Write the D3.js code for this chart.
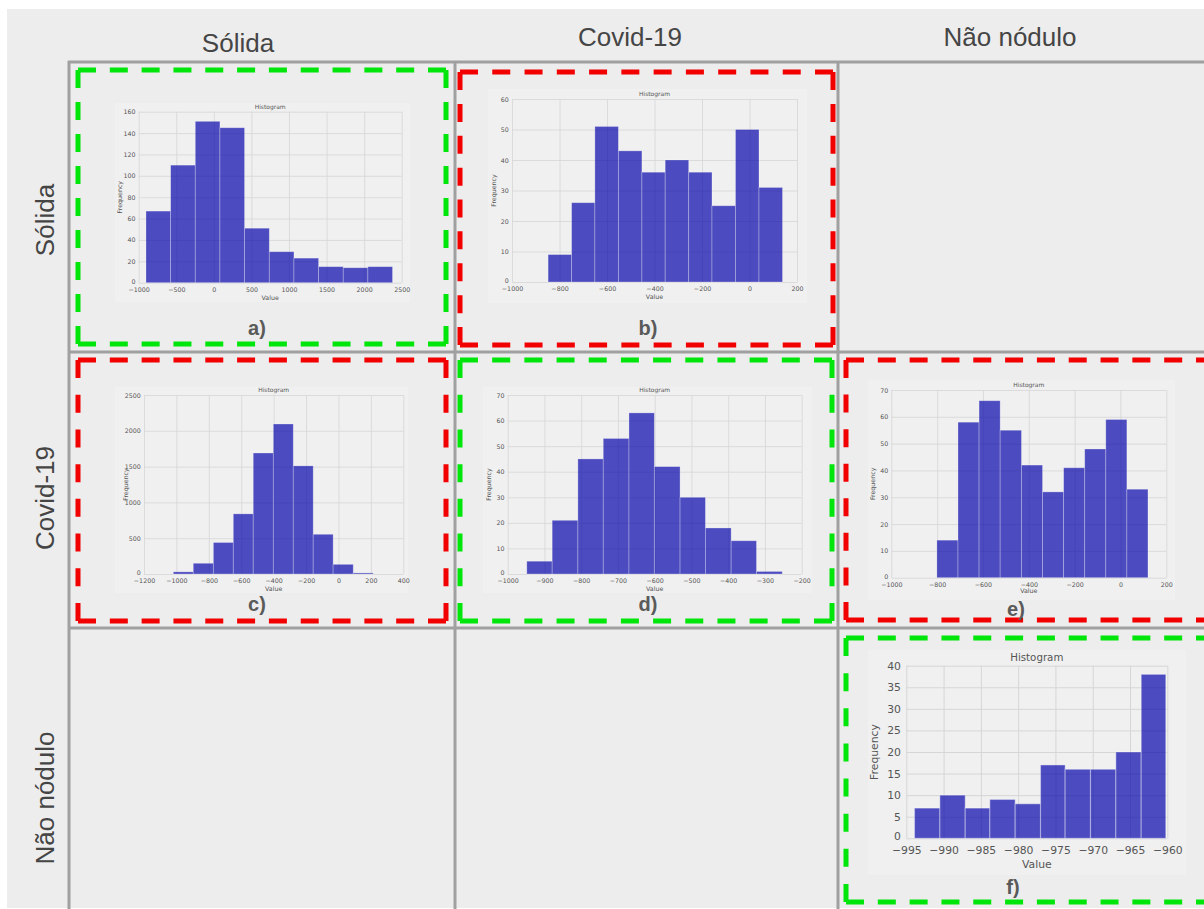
<!DOCTYPE html>
<html>
<head>
<meta charset="utf-8">
<script src="https://cdn.jsdelivr.net/npm/d3@7"></script>
<style>
  body { margin: 0; background: #ffffff; }
  svg { display: block; }
</style>
</head>
<body>
<svg id="chart" width="1204" height="909"></svg>
<script>
// Class names used for the row and column headers of the comparison grid
const classes = ["Sólida", "Covid-19", "Não nódulo"];

// Histogram counts (10 bins each) and the matching bin edges
const countsA = [67, 110, 151, 145, 51, 29, 23, 15, 14, 15];
const edgesA  = [-903, -575, -247, 81, 409, 738, 1066, 1394, 1722, 2050, 2378];
const ticksXA = [-1000, -500, 0, 500, 1000, 1500, 2000, 2500];
const ticksYA = [0, 20, 40, 60, 80, 100, 120, 140, 160];

const countsB = [9, 26, 51, 43, 36, 40, 36, 25, 50, 31];
const edgesB  = [-848, -749, -651, -552, -453, -355, -256, -158, -59, 40, 139];
const ticksXB = [-1000, -800, -600, -400, -200, 0, 200];
const ticksYB = [0, 10, 20, 30, 40, 50, 60];

const countsC = [30, 150, 440, 840, 1690, 2095, 1510, 555, 135, 15];
const edgesC  = [-1019, -896, -772, -649, -526, -402, -279, -156, -33, 91, 214];
const ticksXC = [-1200, -1000, -800, -600, -400, -200, 0, 200, 400];
const ticksYC = [0, 500, 1000, 1500, 2000, 2500];

const countsD = [5, 21, 45, 53, 63, 42, 30, 18, 13, 1];
const edgesD  = [-948, -879, -809, -740, -670, -601, -531, -462, -392, -323, -253];
const ticksXD = [-1000, -900, -800, -700, -600, -500, -400, -300, -200];
const ticksYD = [0, 10, 20, 30, 40, 50, 60, 70];

const countsE = [14, 58, 66, 55, 42, 32, 41, 48, 59, 33];
const edgesE  = [-801, -709, -617, -525, -432, -340, -248, -156, -64, 28, 120];
const ticksXE = [-1000, -800, -600, -400, -200, 0, 200];
const ticksYE = [0, 10, 20, 30, 40, 50, 60, 70];

const countsF = [7, 10, 7, 9, 8, 17, 16, 16, 20, 38];
const edgesF  = [-993.9, -990.5, -987.1, -983.8, -980.4, -977.0, -973.7, -970.3, -966.9, -963.5, -960.2];
const ticksXF = [-995, -990, -985, -980, -975, -970, -965, -960];
const ticksYF = [0, 5, 10, 15, 20, 25, 30, 35, 40];

// Layout of each cell: dashed frame, histogram card, plot area, label positions
const GREEN = "#00e60a", RED = "#f20000";
const panels = [
  { tag: "a)", counts: countsA, edges: edgesA, xTicks: ticksXA, yTicks: ticksYA, color: GREEN,
    frame: [78, 70, 446, 344], card: [115, 103, 410, 302], plot: [138.7, 111.7, 401.7, 282.7], fs: 6.3, tagPos: [257, 335], valueDy: 2.75 },
  { tag: "b)", counts: countsB, edges: edgesB, xTicks: ticksXB, yTicks: ticksYB, color: RED,
    frame: [460, 72, 833, 345], card: [488, 89, 807, 303], plot: [512, 99, 797, 282], fs: 6.3, tagPos: [648, 335], valueDy: 2.75 },
  { tag: "c)", counts: countsC, edges: edgesC, xTicks: ticksXC, yTicks: ticksYC, color: RED,
    frame: [78, 360, 446, 621], card: [115, 387, 408, 593], plot: [144, 395, 403.3, 574], fs: 6.3, tagPos: [257, 611], valueDy: 2.75 },
  { tag: "d)", counts: countsD, edges: edgesD, xTicks: ticksXD, yTicks: ticksYD, color: GREEN,
    frame: [460, 360, 832, 621], card: [483, 387, 812, 593], plot: [507.7, 395, 801.7, 574], fs: 6.3, tagPos: [648, 611], valueDy: 2.75 },
  { tag: "e)", counts: countsE, edges: edgesE, xTicks: ticksXE, yTicks: ticksYE, color: RED,
    frame: [846, 360, 1214, 620], card: [868, 380, 1175, 600], plot: [891.3, 390, 1166.3, 577.7], fs: 6.3, tagPos: [1016, 616], valueDy: 2.5 },
  { tag: "f)", counts: countsF, edges: edgesF, xTicks: ticksXF, yTicks: ticksYF, color: GREEN,
    frame: [846, 638, 1214, 902], card: [868, 650, 1186, 875], plot: [906.3, 665.7, 1167.3, 838.3], fs: 10.8, tagPos: [1013, 894], valueDy: 2.75 }
];

const svg = d3.select("#chart");
const HEAD_FONT = "'Liberation Sans', Arial, Helvetica, sans-serif";
const PLOT_FONT = "'DejaVu Sans', sans-serif";

// Sheet background
svg.append("rect").attr("x", 7).attr("y", 9).attr("width", 1197).attr("height", 899).attr("fill", "#ededed");

// Column headers
const colX = [238, 630, 1010];
const colY = [52, 46, 46];
classes.forEach((c, i) => {
  svg.append("text").attr("x", colX[i]).attr("y", colY[i]).attr("text-anchor", "middle")
    .attr("font-family", HEAD_FONT).attr("font-size", 26).attr("fill", "#454545").text(c);
});

// Row headers (rotated)
const rowY = [220, 498, 798];
classes.forEach((c, i) => {
  svg.append("text").attr("transform", `translate(54,${rowY[i]}) rotate(-90)`).attr("text-anchor", "middle")
    .attr("font-family", HEAD_FONT).attr("font-size", 26).attr("fill", "#454545").text(c);
});

// Grid separating the cells
const gridCol = [69, 455, 838];
const gridRow = [62, 352, 628];
const grid = svg.append("g").attr("stroke", "#a0a0a0").attr("stroke-width", 3);
gridCol.forEach(x => grid.append("line").attr("x1", x).attr("x2", x).attr("y1", 61).attr("y2", 909));
gridRow.forEach(y => grid.append("line").attr("x1", 68).attr("x2", 1204).attr("y1", y).attr("y2", y));

const fmt = d3.format("");

// One dashed side that starts and ends with a dash, so every corner gets an L piece
function dashedSide(g, x1, y1, x2, y2, color) {
  const len = Math.hypot(x2 - x1, y2 - y1);
  const dash = 18, gapNominal = 15;
  const n = Math.max(2, Math.round((len + gapNominal) / (dash + gapNominal)));
  const gap = (len - n * dash) / (n - 1);
  g.append("line").attr("x1", x1).attr("y1", y1).attr("x2", x2).attr("y2", y2)
    .attr("stroke", color).attr("stroke-width", 5)
    .attr("stroke-dasharray", `${dash},${gap}`);
}

panels.forEach(p => {
  const g = svg.append("g");
  const [fx0, fy0, fx1, fy1] = p.frame;
  const [cx0, cy0, cx1, cy1] = p.card;
  const [px0, py0, px1, py1] = p.plot;
  const fs = p.fs;

  // histogram card background
  g.append("rect").attr("x", cx0).attr("y", cy0).attr("width", cx1 - cx0).attr("height", cy1 - cy0)
    .attr("fill", "#f0f0f0");

  const x = d3.scaleLinear().domain(d3.extent(p.xTicks)).range([px0, px1]);
  const y = d3.scaleLinear().domain(d3.extent(p.yTicks)).range([py1, py0]);

  // grid lines + tick labels via axes
  const xAxis = g.append("g").attr("transform", `translate(0,${py1})`)
    .call(d3.axisBottom(x).tickValues(p.xTicks).tickFormat(fmt).tickSize(-(py1 - py0)).tickPadding(fs * 0.75));
  const yAxis = g.append("g").attr("transform", `translate(${px0},0)`)
    .call(d3.axisLeft(y).tickValues(p.yTicks).tickFormat(fmt).tickSize(-(px1 - px0)).tickPadding(fs * 0.5));
  [xAxis, yAxis].forEach(a => {
    a.select(".domain").remove();
    a.selectAll(".tick line").attr("stroke", "#d6d6d6").attr("stroke-width", fs > 8 ? 1 : 0.8);
    a.selectAll(".tick text").attr("font-family", PLOT_FONT).attr("font-size", fs).attr("fill", "#555");
  });
  // lowest y label sits a touch higher, clear of the x labels
  yAxis.selectAll(".tick text").filter(d => d === 0).attr("dy", "0.1em");

  // bars
  g.append("g").selectAll("rect").data(p.counts).join("rect")
    .attr("x", (d, i) => x(p.edges[i]))
    .attr("width", (d, i) => x(p.edges[i + 1]) - x(p.edges[i]))
    .attr("y", d => y(d))
    .attr("height", d => y(0) - y(d))
    .attr("fill", "#0504aa").attr("fill-opacity", 0.7)
    .attr("stroke", "#ffffff").attr("stroke-opacity", 0.35).attr("stroke-width", fs > 8 ? 1.2 : 0.8);

  // titles
  g.append("text").attr("x", (px0 + px1) / 2).attr("y", py0 - fs * 0.4).attr("text-anchor", "middle")
    .attr("font-family", PLOT_FONT).attr("font-size", fs * 0.95).attr("fill", "#555").text("Histogram");
  g.append("text").attr("x", (px0 + px1) / 2).attr("y", py1 + fs * p.valueDy).attr("text-anchor", "middle")
    .attr("font-family", PLOT_FONT).attr("font-size", fs).attr("fill", "#555").text("Value");
  g.append("text").attr("transform", `translate(${px0 - fs * 2.6},${(py0 + py1) / 2}) rotate(-90)`)
    .attr("text-anchor", "middle").attr("font-family", PLOT_FONT).attr("font-size", fs)
    .attr("fill", "#555").text("Frequency");

  // dashed highlight frame, one side at a time
  dashedSide(g, fx0, fy0, fx1, fy0, p.color);
  dashedSide(g, fx1, fy0, fx1, fy1, p.color);
  dashedSide(g, fx0, fy1, fx1, fy1, p.color);
  dashedSide(g, fx0, fy0, fx0, fy1, p.color);

  // panel letter
  g.append("text").attr("x", p.tagPos[0]).attr("y", p.tagPos[1]).attr("text-anchor", "middle")
    .attr("font-family", HEAD_FONT).attr("font-weight", "bold").attr("font-size", 20)
    .attr("fill", "#5a5a5a").text(p.tag);
});
</script>
</body>
</html>
